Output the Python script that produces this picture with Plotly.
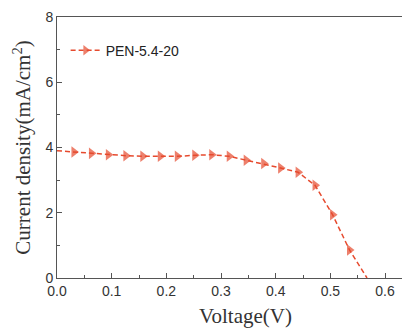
import plotly.graph_objects as go

voltage = [0.0, 0.031, 0.063, 0.094, 0.126, 0.157, 0.189, 0.220, 0.252, 0.283,
           0.315, 0.346, 0.378, 0.409, 0.441, 0.472, 0.504, 0.535, 0.567]
current = [3.90, 3.86, 3.82, 3.78, 3.75, 3.73, 3.73, 3.73, 3.76, 3.78,
           3.73, 3.61, 3.51, 3.37, 3.24, 2.84, 1.94, 0.86, 0.0]
marker_on = [0] + [1] * 17 + [0]
series_name = "PEN-5.4-20"

x_ticks = [0.0, 0.1, 0.2, 0.3, 0.4, 0.5, 0.6]
x_ticklabels = ["0.0", "0.1", "0.2", "0.3", "0.4", "0.5", "0.6"]
y_ticks = [0, 2, 4, 6, 8]

color = "#E64A2E"
axis_color = "#555555"

fig = go.Figure()
fig.add_trace(go.Scatter(
    x=voltage, y=current, mode="lines+markers", name=series_name,
    line=dict(color=color, width=1.5, dash="5px,3px"),
    marker=dict(symbol="triangle-right", color=color,
                size=[10 * m for m in marker_on], line=dict(width=0)),
))

fig.update_layout(
    width=402, height=331,
    margin=dict(l=57, r=0, t=17, b=53, autoexpand=False),
    paper_bgcolor="white", plot_bgcolor="white",
    showlegend=True,
    legend=dict(x=0.025, y=0.871, xanchor="left", yanchor="middle",
                bgcolor="rgba(0,0,0,0)",
                font=dict(family="Liberation Sans, Arial", size=14, color="#222")),
    font=dict(family="Liberation Sans, Arial", size=13, color="#333"),
)

fig.update_xaxes(
    range=[0, 0.631], tickvals=x_ticks, ticktext=x_ticklabels, automargin=False,
    ticks="inside", ticklen=5, tickcolor=axis_color,
    showline=True, linecolor=axis_color, linewidth=1, mirror=True,
    showgrid=False, zeroline=False,
    minor=dict(ticks="inside", ticklen=3, dtick=0.05, tick0=0, tickcolor=axis_color),
    tickfont=dict(family="Liberation Sans, Arial", size=14, color="#333"),
)
fig.update_yaxes(
    range=[0, 8], tickvals=y_ticks, automargin=False,
    ticks="inside", ticklen=5, tickcolor=axis_color,
    showline=True, linecolor=axis_color, linewidth=1, mirror=False,
    showgrid=False, zeroline=False,
    minor=dict(ticks="inside", ticklen=3, dtick=1, tick0=0, tickcolor=axis_color),
    tickfont=dict(family="Liberation Sans, Arial", size=14, color="#333"),
)

fig.add_annotation(
    text="Current density(mA/cm<sup>2</sup>)", x=-0.101, xref="paper", xanchor="center",
    y=0.5, yref="paper", yanchor="middle", textangle=-90, showarrow=False,
    font=dict(family="Liberation Serif, Times New Roman", size=21, color="#333"),
)
fig.add_annotation(
    text="Voltage(V)", x=0.344, xref="x", y=-0.145, yref="paper",
    showarrow=False, xanchor="center", yanchor="middle",
    font=dict(family="Liberation Serif, Times New Roman", size=21, color="#333"),
)

fig.write_html("out.html", config={"displayModeBar": False},
               post_script="document.body.style.margin='0';")
